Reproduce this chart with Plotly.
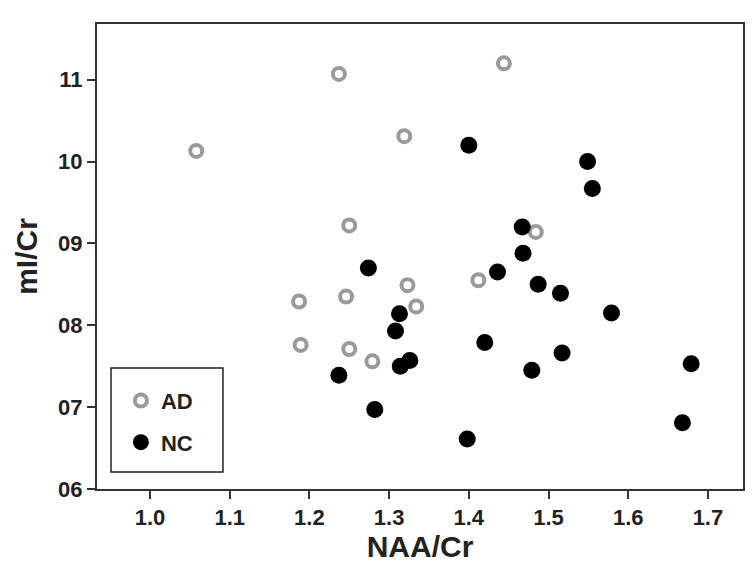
import plotly.graph_objects as go

# AD group (open grey circles)
ad_naa = [1.058, 1.237, 1.444, 1.319, 1.250, 1.323, 1.187, 1.246, 1.334,
          1.189, 1.250, 1.279, 1.412, 1.484]
ad_mi = [1.013, 1.107, 1.120, 1.031, 0.922, 0.849, 0.829, 0.835, 0.823,
         0.776, 0.771, 0.756, 0.855, 0.914]

# NC group (filled black circles)
nc_naa = [1.400, 1.549, 1.555, 1.467, 1.468, 1.274, 1.436, 1.487, 1.515,
          1.579, 1.313, 1.308, 1.420, 1.517, 1.314, 1.326, 1.479, 1.679,
          1.237, 1.282, 1.668, 1.398]
nc_mi = [1.020, 1.000, 0.967, 0.920, 0.888, 0.870, 0.865, 0.850, 0.839,
         0.815, 0.814, 0.793, 0.779, 0.766, 0.750, 0.757, 0.745, 0.753,
         0.739, 0.697, 0.681, 0.661]

x_ticks = [1.0, 1.1, 1.2, 1.3, 1.4, 1.5, 1.6, 1.7]
y_ticks = [0.6, 0.7, 0.8, 0.9, 1.0, 1.1]
y_labels = ["06", "07", "08", "09", "10", "11"]

FONT = "Liberation Sans, Arial, sans-serif"
INK = '#222222'

fig = go.Figure()

fig.add_trace(go.Scatter(
    x=ad_naa, y=ad_mi, mode='markers', name='AD', legendgroup='ad',
    marker=dict(symbol='circle-open', size=12, color='#9a9a9a',
                line=dict(width=4, color='#9a9a9a'))
))
fig.add_trace(go.Scatter(
    x=nc_naa, y=nc_mi, mode='markers', name='NC', legendgroup='nc',
    marker=dict(symbol='circle', size=17, color='black')
))

axis_common = dict(
    showline=True, linecolor='#333333', linewidth=2, mirror=True,
    ticks='outside', ticklen=8, tickwidth=2, tickcolor='#333333',
    showgrid=False, zeroline=False, automargin=False,
    tickfont=dict(family=FONT, size=22, color=INK, weight='bold'),
)

# legend frame drawn as a shape so its size can match the original
fig.add_shape(type='rect', xref='paper', yref='paper',
              x0=0.0217, x1=0.195, y0=0.0366, y1=0.260,
              line=dict(color=INK, width=1.5), fillcolor='white', layer='above')

# page body has an 8px margin, so the figure is a bit smaller than the window
fig.update_layout(
    width=748, height=556,
    paper_bgcolor='white', plot_bgcolor='white',
    margin=dict(l=89, r=13, t=16, b=75),
    xaxis=dict(
        range=[0.9335, 1.744], tickvals=x_ticks, ticktext=[f"{v:.1f}" for v in x_ticks],
        title=dict(text="NAA/Cr", font=dict(family=FONT, size=30, color=INK, weight='bold'),
                   standoff=4),
        **axis_common
    ),
    yaxis=dict(
        range=[0.6, 1.168], tickvals=y_ticks, ticktext=y_labels,
        title=dict(text="mI/Cr", font=dict(family=FONT, size=30, color=INK, weight='bold'),
                   standoff=12),
        **axis_common
    ),
    legend=dict(
        x=0.037, y=0.235, xanchor='left', yanchor='top',
        borderwidth=0, bgcolor='rgba(0,0,0,0)',
        font=dict(family=FONT, size=22, color=INK, weight='bold'),
        tracegroupgap=10, itemwidth=30,
    ),
    showlegend=True,
)

fig.write_html("out.html")
